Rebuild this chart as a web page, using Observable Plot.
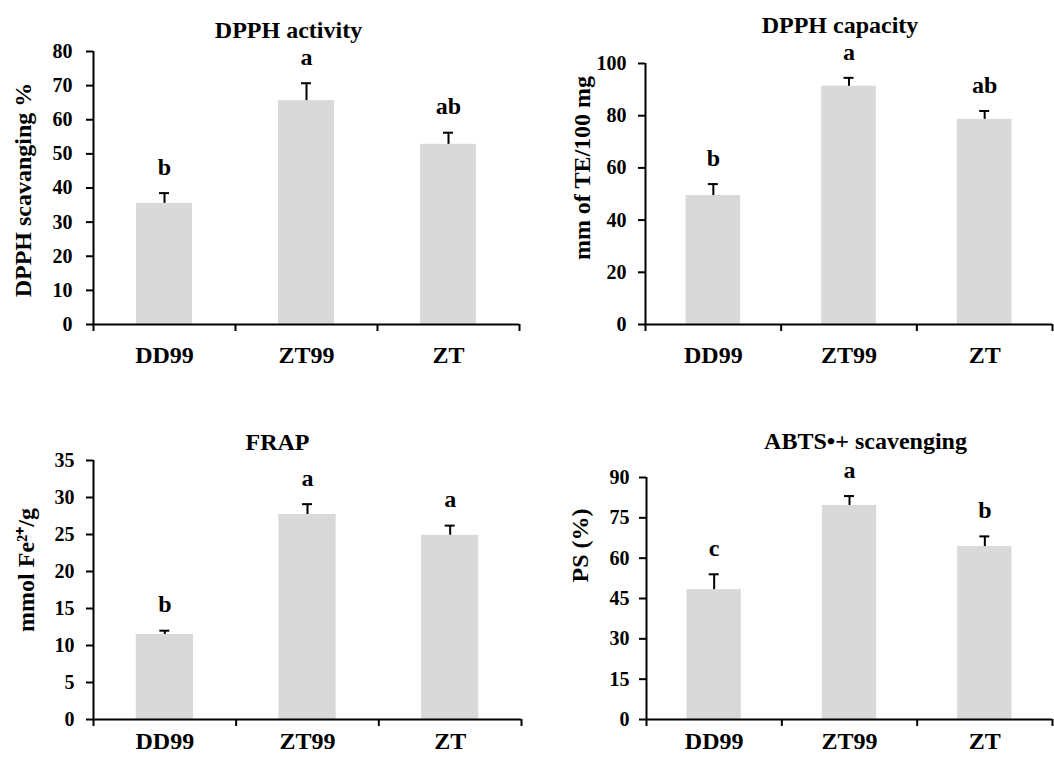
<!DOCTYPE html>
<html><head><meta charset="utf-8">
<script src="https://cdn.jsdelivr.net/npm/d3@7"></script>
<script src="https://cdn.jsdelivr.net/npm/@observablehq/plot@0.6"></script>
<style>
body{margin:0;background:#fff}
#wrap{position:relative;width:1054px;height:760px;background:#fff}
.panel{position:absolute;width:527px;height:380px}
</style></head><body><div id="wrap"></div>
<script>
const categories = ["DD99", "ZT99", "ZT"];

const dpphActivity = [35.5, 65.6, 52.8];
const dpphActivityErr = [3.0, 5.1, 3.4];
const dpphActivityLetters = ["b", "a", "ab"];
const dpphActivityTicks = [0, 10, 20, 30, 40, 50, 60, 70, 80];

const dpphCapacity = [49.4, 91.3, 78.6];
const dpphCapacityErr = [4.4, 3.2, 3.2];
const dpphCapacityLetters = ["b", "a", "ab"];
const dpphCapacityTicks = [0, 20, 40, 60, 80, 100];

const frap = [11.5, 27.7, 24.9];
const frapErr = [0.5, 1.4, 1.3];
const frapLetters = ["b", "a", "a"];
const frapTicks = [0, 5, 10, 15, 20, 25, 30, 35];

const abts = [48.3, 79.6, 64.3];
const abtsErr = [5.7, 3.5, 3.8];
const abtsLetters = ["c", "a", "b"];
const abtsTicks = [0, 15, 30, 45, 60, 75, 90];

const titles = ["DPPH activity", "DPPH capacity", "FRAP", "ABTS•+ scavenging"];
const yLabels = ["DPPH scavanging %", "mm of TE/100 mg", "mmol Fe²⁺/g", "PS (%)"];

const FONT = "'Liberation Serif', 'Times New Roman', Times, serif";

function panel(o) {
  const data = categories.map((c, i) => ({
    cat: c, i, v: o.values[i], e: o.errs[i], top: o.values[i] + o.errs[i], letter: o.letters[i]
  }));
  const chart = Plot.plot({
    width: 527,
    height: 380,
    marginLeft: o.ml, marginRight: o.mr, marginTop: o.mt, marginBottom: o.mb,
    style: {fontFamily: FONT, fontWeight: "bold", fontSize: "20px", color: "black", background: "transparent", overflow: "visible"},
    x: {domain: [0, categories.length]},
    y: {domain: [0, o.yTicks[o.yTicks.length - 1]]},
    marks: [
      Plot.rectY(data, {x1: "i", x2: d => d.i + 1, y: "v", fill: "#d9d9d9", insetLeft: o.inset, insetRight: o.inset}),
      Plot.ruleX(data, {x: d => d.i + 0.5, y1: "v", y2: "top", stroke: "black", strokeWidth: 2}),
      Plot.ruleY(data, {x1: d => d.i + 0.5, x2: d => d.i + 0.5, y: "top", insetLeft: -5, insetRight: -5, stroke: "black", strokeWidth: 2}),
      Plot.ruleY([0], {stroke: "black", strokeWidth: 2}),
      Plot.ruleX([0], {stroke: "black", strokeWidth: 2}),
      Plot.axisY({ticks: o.yTicks, tickSize: 7, tickPadding: o.tp, fontSize: 20, fontWeight: "bold", fontFamily: FONT, label: null, strokeWidth: 2}),
      Plot.axisX({ticks: d3.range(categories.length + 1), tickSize: 7, tickFormat: () => "", label: null, strokeWidth: 2}),
      Plot.text(data, {x: d => d.i + 0.5, text: "cat", frameAnchor: "bottom", dy: o.xdy, fontSize: 24, fontWeight: "bold", lineAnchor: "middle"}),
      Plot.text(data, {x: d => d.i + 0.5, y: "top", text: "letter", dy: -26, fontSize: 24, fontWeight: "bold", lineAnchor: "middle"}),
      Plot.text([o.title], {frameAnchor: "top", dx: o.tdx, dy: o.tdy, fontSize: 24, fontWeight: "bold", lineAnchor: "middle", textAnchor: "middle"}),
      Plot.text([o.ylabel], {frameAnchor: "left", rotate: -90, dx: o.ldx, dy: o.ldy, fontSize: 24, fontWeight: "bold", lineAnchor: "middle", textAnchor: "middle"})
    ]
  });
  const div = document.createElement("div");
  div.className = "panel";
  div.style.left = o.left + "px";
  div.style.top = o.top + "px";
  div.appendChild(chart);
  document.getElementById("wrap").appendChild(div);
}

panel({title: titles[0], ylabel: yLabels[0], values: dpphActivity, errs: dpphActivityErr, letters: dpphActivityLetters, yTicks: dpphActivityTicks,
  left: 0, top: 0, ml: 93, mr: 8, mt: 51, mb: 56, inset: 43, tp: 14, xdy: 31, tdx: -18, tdy: -21, ldx: -70, ldy: 2});
panel({title: titles[1], ylabel: yLabels[1], values: dpphCapacity, errs: dpphCapacityErr, letters: dpphCapacityLetters, yTicks: dpphCapacityTicks,
  left: 527, top: 0, ml: 118, mr: 2, mt: 63, mb: 56, inset: 40.5, tp: 12, xdy: 31, tdx: -9, tdy: -38, ldx: -63, ldy: -26});
panel({title: titles[2], ylabel: yLabels[2], values: frap, errs: frapErr, letters: frapLetters, yTicks: frapTicks,
  left: 0, top: 380, ml: 93, mr: 6, mt: 80, mb: 41, inset: 42.7, tp: 12, xdy: 22, tdx: -30, tdy: -18, ldx: -67, ldy: -20});
panel({title: titles[3], ylabel: yLabels[3], values: abts, errs: abtsErr, letters: abtsLetters, yTicks: abtsTicks,
  left: 527, top: 380, ml: 119, mr: 2, mt: 97, mb: 41, inset: 40.5, tp: 10, xdy: 22, tdx: 16, tdy: -36, ldx: -66, ldy: -53});
</script>
</body></html>
